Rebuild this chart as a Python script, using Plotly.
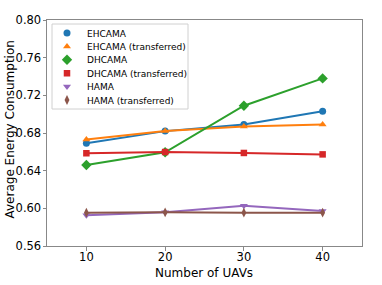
import plotly.graph_objects as go

uavs = [10, 20, 30, 40]
ehcama = [0.669, 0.682, 0.689, 0.703]
ehcama_t = [0.673, 0.682, 0.687, 0.689]
dhcama = [0.646, 0.6595, 0.709, 0.738]
dhcama_t = [0.6585, 0.6598, 0.6588, 0.6573]
hama = [0.5926, 0.5958, 0.6028, 0.5972]
hama_t = [0.5954, 0.5958, 0.5954, 0.5954]
y_ticks = [0.56, 0.60, 0.64, 0.68, 0.72, 0.76, 0.80]
x_ticks = [10, 20, 30, 40]

series = [
    ("EHCAMA", ehcama, "#1f77b4", "circle", 7),
    ("EHCAMA (transferred)", ehcama_t, "#ff7f0e", "triangle-up", 7),
    ("DHCAMA", dhcama, "#2ca02c", "diamond", 8),
    ("DHCAMA (transferred)", dhcama_t, "#d62728", "square", 6.5),
    ("HAMA", hama, "#9467bd", "triangle-down", 7),
    ("HAMA (transferred)", hama_t, "#8c564b", "diamond-tall", 7),
]

W, H = 382, 285
ML, MR, MT, MB = 47, 20, 20, 39
PW, PH = W - ML - MR, H - MT - MB

def px_x(p):
    return (p - ML) / PW

def px_y(p):
    return 1 - (p - MT) / PH

fig = go.Figure()
for name, vals, color, sym, size in series:
    fig.add_trace(go.Scatter(
        x=uavs, y=vals, mode="lines+markers", name=name, showlegend=False,
        line=dict(color=color, width=2),
        marker=dict(color=color, symbol=sym, size=size),
    ))

legends = {}
row0, row_gap = 33, 13.4
for i, (name, vals, color, sym, size) in enumerate(series):
    key = "legend" if i == 0 else f"legend{i+1}"
    fig.add_trace(go.Scatter(
        x=[None], y=[None], mode="markers", name=name, showlegend=True,
        legend=key,
        marker=dict(color=color, symbol=sym, size=size),
    ))
    legends[key] = dict(
        x=px_x(47), y=px_y(row0 + row_gap * i), xanchor="left", yanchor="middle",
        bgcolor="rgba(0,0,0,0)", borderwidth=0,
        font=dict(family="DejaVu Sans", size=9, color="black"),
        itemwidth=30,
    )

# legend frame
bx0, bx1, by0, by1 = 52, 188, 24, 109
fig.add_shape(type="rect", xref="paper", yref="paper",
              x0=px_x(bx0), x1=px_x(bx1), y0=px_y(by1), y1=px_y(by0),
              line=dict(color="#d0d0d0", width=1),
              fillcolor="rgba(255,255,255,0.8)", layer="above")

# axis titles
fig.add_annotation(text="Average Energy Consumption", textangle=-90,
                   xref="paper", yref="paper", x=px_x(9.5), y=px_y(130),
                   xanchor="center", yanchor="middle", showarrow=False,
                   font=dict(family="DejaVu Sans", size=12, color="black"))
fig.add_annotation(text="Number of UAVs",
                   xref="paper", yref="paper", x=px_x(204), y=px_y(273),
                   xanchor="center", yanchor="middle", showarrow=False,
                   font=dict(family="DejaVu Sans", size=12, color="black"))

axis_common = dict(
    showline=True, linecolor="#888888", linewidth=1, mirror=True,
    ticks="outside", ticklen=3.5, tickwidth=1, tickcolor="#888888",
    showgrid=False, zeroline=False, automargin=False,
    tickfont=dict(family="DejaVu Sans", size=11.5, color="black"),
)

fig.update_layout(
    width=W, height=H,
    margin=dict(l=ML, r=MR, t=MT, b=MB),
    plot_bgcolor="white", paper_bgcolor="white",
    font=dict(family="DejaVu Sans", size=12, color="black"),
    xaxis=dict(range=[5, 45], tickvals=x_ticks, ticklabelstandoff=-3,
               **axis_common),
    yaxis=dict(range=[0.56, 0.80], tickvals=y_ticks, tickformat=".2f",
               ticklabelstandoff=-1, **axis_common),
    **legends,
)

fig.write_html("out.html",
               config={"displayModeBar": False},
               post_script="document.body.style.margin='0';document.body.style.overflow='hidden';")
